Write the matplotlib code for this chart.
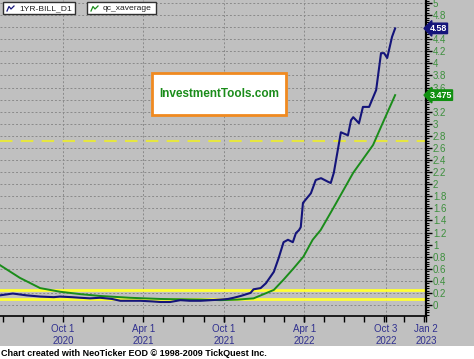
import numpy as np
import matplotlib
matplotlib.use("Agg")
import matplotlib.pyplot as plt
import matplotlib.dates as mdates
import matplotlib.transforms as mtransforms
from matplotlib.patches import Rectangle
from matplotlib.lines import Line2D

plt.rcParams['font.family'] = ['Liberation Sans', 'DejaVu Sans']

# 1-year T-bill (blue)
bill_dates = np.array([
    '2020-05-11', '2020-06-09', '2020-07-10', '2020-08-10', '2020-09-10', '2020-09-24',
    '2020-10-20', '2020-11-09', '2020-12-01', '2020-12-24', '2021-01-20', '2021-02-08',
    '2021-03-01', '2021-03-25', '2021-04-20', '2021-05-10', '2021-06-01', '2021-06-24',
    '2021-07-15', '2021-08-09', '2021-09-01', '2021-09-23', '2021-10-10', '2021-10-23',
    '2021-11-08', '2021-11-30', '2021-12-07', '2021-12-23', '2022-01-04', '2022-01-22',
    '2022-02-02', '2022-02-13', '2022-02-23', '2022-03-06', '2022-03-13', '2022-03-20',
    '2022-03-24', '2022-03-29', '2022-04-16', '2022-04-27', '2022-05-09', '2022-05-25',
    '2022-05-31', '2022-06-07', '2022-06-23', '2022-07-09', '2022-07-16', '2022-07-21',
    '2022-08-03', '2022-08-12', '2022-08-26', '2022-09-11', '2022-09-22', '2022-09-29',
    '2022-10-06', '2022-10-17', '2022-10-24'], dtype='datetime64[D]')
bill_values = [
    0.16, 0.19, 0.16, 0.14, 0.13, 0.14,
    0.13, 0.12, 0.11, 0.12, 0.10, 0.07,
    0.07, 0.07, 0.06, 0.05, 0.05, 0.08,
    0.07, 0.07, 0.08, 0.09, 0.10, 0.12,
    0.15, 0.20, 0.26, 0.28, 0.36, 0.55,
    0.78, 1.04, 1.08, 1.04, 1.19, 1.24,
    1.29, 1.69, 1.85, 2.07, 2.10, 2.04,
    2.02, 2.19, 2.86, 2.81, 3.06, 3.11,
    3.01, 3.28, 3.28, 3.56, 4.17, 4.17,
    4.09, 4.44, 4.58]

# exponential average (green)
avg_dates = np.array([
    '2020-05-11', '2020-06-25', '2020-08-10', '2020-09-24', '2020-11-09', '2020-12-24',
    '2021-03-01', '2021-05-10', '2021-08-09', '2021-09-23', '2021-11-01', '2021-12-07',
    '2022-01-22', '2022-02-13', '2022-03-08', '2022-03-30', '2022-04-20', '2022-05-08',
    '2022-06-07', '2022-07-21', '2022-09-04', '2022-09-22', '2022-10-24'], dtype='datetime64[D]')
avg_values = [
    0.66, 0.45, 0.28, 0.22, 0.18, 0.15,
    0.12, 0.10, 0.09, 0.08, 0.09, 0.11,
    0.25, 0.42, 0.61, 0.80, 1.08, 1.24,
    1.62, 2.19, 2.65, 2.95, 3.475]

yellow_solid = [0.25, 0.10]
yellow_dashed = 2.72

tick_dates = np.array(['2020-10-01', '2021-04-01', '2021-10-01', '2022-04-01',
                       '2022-10-03', '2023-01-02'], dtype='datetime64[D]')
tick_labels = ['Oct 1\n2020', 'Apr 1\n2021', 'Oct 1\n2021', 'Apr 1\n2022',
               'Oct 3\n2022', 'Jan 2\n2023']
y_ticks = np.round(np.arange(0, 5.01, 0.2), 1)
y_hidden = [4.6, 3.4]   # covered by the value flags

gray = '#c0c0c0'
navy = '#14147a'
green = '#1a8c1a'
W, H = 474, 359

def px(x, y):
    return x / W, 1 - y / H

fig = plt.figure(figsize=(W / 100, H / 100), dpi=100, facecolor=gray)
fig.add_artist(Rectangle((0, 0), 1, 13 / H, transform=fig.transFigure,
                         facecolor='white', edgecolor='none', zorder=0))

ax = fig.add_axes([0, (H - 316) / H, 426 / W, 316 / H])
ax.set_facecolor(gray)

ax.set_xlim(np.datetime64('2020-05-11'), np.datetime64('2023-01-02'))
ax.set_ylim(-0.182, 5.05)

for v in yellow_solid:
    ax.axhline(v, color='#ffff33', lw=2, zorder=2)
ax.axhline(yellow_dashed, color='#e6e640', lw=1.5, ls=(0, (6, 4)), zorder=2)

ax.plot(avg_dates, avg_values, color=green, lw=1.4, zorder=3)
ax.plot(bill_dates, bill_values, color=navy, lw=1.5, zorder=4)

# axes / ticks
for s in ['left', 'top']:
    ax.spines[s].set_visible(False)
ax.spines['right'].set_linewidth(1.6)
ax.spines['bottom'].set_linewidth(1.2)

ax.yaxis.tick_right()
ax.set_yticks(y_ticks)
ax.set_yticklabels(['' if v in y_hidden else '%g' % v for v in y_ticks])
ax.set_yticks(np.arange(-0.16, 5.05, 0.04), minor=True)
ax.tick_params(axis='y', which='major', length=4, width=1, pad=1,
               labelcolor='#3d8f3d', labelsize=7)
ax.tick_params(axis='y', which='minor', length=2, width=0.8)

ax.set_xticks(mdates.date2num(tick_dates))
ax.set_xticklabels(tick_labels)
minor = mdates.date2num(np.datetime64('2020-10-01')) + np.arange(-3, 19) * 45.5
ax.set_xticks(minor, minor=True)
ax.tick_params(axis='x', which='major', length=4, width=1, pad=2,
               labelcolor='#30308f', labelsize=7)
ax.tick_params(axis='x', which='minor', length=4, width=1)

ax.grid(True, which='major', color='#8a8a8a', lw=0.7, ls=(0, (2, 2)))
ax.set_axisbelow(True)

# value flags on the right
blend = mtransforms.blended_transform_factory(ax.transAxes, ax.transData)
ax.text(1.008, bill_values[-1], '4.58', transform=blend, ha='left', va='center',
        color='white', fontsize=6.5, fontweight='bold', zorder=6, clip_on=False,
        bbox=dict(boxstyle='larrow,pad=0.08', fc=navy, ec=navy))
ax.text(1.008, avg_values[-1], '3.475', transform=blend, ha='left', va='center',
        color='white', fontsize=6.5, fontweight='bold', zorder=6, clip_on=False,
        bbox=dict(boxstyle='larrow,pad=0.08', fc='#109010', ec='#109010'))

# legend boxes
def legend_box(x0, x1, label, col):
    fig.add_artist(Rectangle(px(x0, 14), (x1 - x0) / W, 12 / H, transform=fig.transFigure,
                             facecolor='white', edgecolor='#303030', lw=1, zorder=5))
    xs = np.array([x0 + 4, x0 + 6, x0 + 8, x0 + 11]) / W
    ys = 1 - np.array([11, 6.5, 9, 6]) / H
    fig.add_artist(Line2D(xs, ys, color=col, lw=0.9, transform=fig.transFigure, zorder=6))
    fig.text(*px(x0 + 16, 8.3), label, fontsize=6.1, color='#202020', va='center',
             ha='left', zorder=6)

legend_box(3, 75, '1YR-BILL_D1', navy)
legend_box(87, 156, 'qc_xaverage', green)

# watermark box
fig.add_artist(Rectangle(px(152, 115), 134 / W, 42 / H, transform=fig.transFigure,
                         facecolor='white', edgecolor='#f08a20', lw=2, zorder=5))
fig.text(*px(219, 94), 'InvestmentTools.com', fontsize=8.5, fontweight='bold',
         color=green, ha='center', va='center', zorder=6)

fig.text(*px(1, 353), 'Chart created with NeoTicker EOD \u00a9 1998-2009 TickQuest Inc.',
         fontsize=6.5, fontweight='bold', color='black', ha='left', va='center')

fig.savefig('out.png', dpi=100, facecolor=gray)
